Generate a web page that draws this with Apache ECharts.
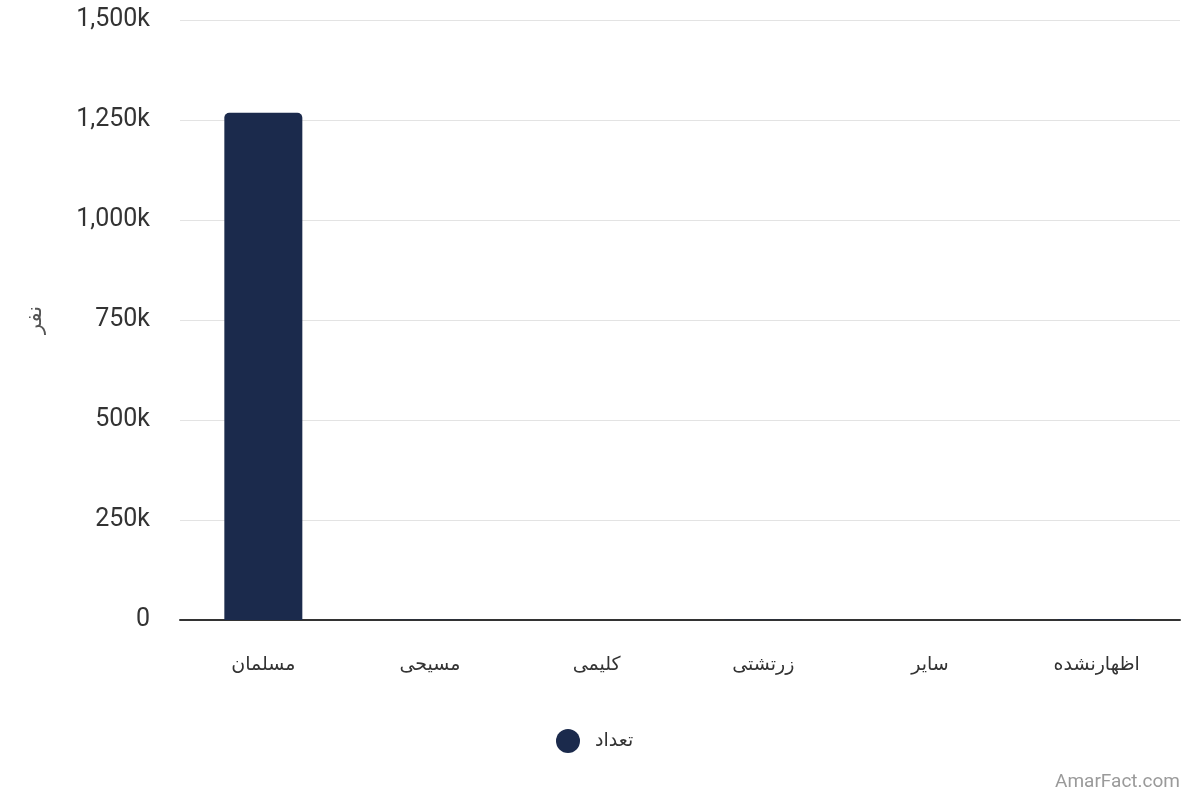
<!DOCTYPE html>
<html lang="fa">
<head>
    <meta charset="UTF-8">
    <title>Chart</title>
    <script src="https://cdn.jsdelivr.net/npm/echarts@6/dist/echarts.min.js"></script>
    <style>
        html, body {margin: 0; padding: 0; background: #fff;}
    </style>
</head>
<body>
<div id="main" style="width: 1200px;height:800px;"></div>
<script>
    // data
    var categories = ['مسلمان', 'مسیحی', 'کلیمی', 'زرتشتی', 'سایر', 'اظهارنشده'];
    var counts = [1268000, 900, 200, 700, 300, 1500];
    var yTicks = [0, 250000, 500000, 750000, 1000000, 1250000, 1500000];

    var font = 'Roboto, "DejaVu Sans", sans-serif';
    var myChart = echarts.init(document.getElementById('main'));

    var option = {
        backgroundColor: '#fff',
        animation: false,
        textStyle: {fontFamily: font},
        grid: {left: 180, right: 20, top: 20, bottom: 180, containLabel: false},
        legend: {
            data: ['تعداد'],
            bottom: 42,
            left: 551,
            icon: 'circle',
            itemWidth: 24,
            itemHeight: 24,
            textStyle: {fontSize: 19, color: '#333', fontFamily: font, padding: [0, 0, 0, 10]}
        },
        xAxis: {
            type: 'category',
            data: categories,
            axisLine: {lineStyle: {color: '#333', width: 2}},
            axisTick: {show: false},
            axisLabel: {fontSize: 19, color: '#333', margin: 36, fontFamily: font}
        },
        yAxis: {
            type: 'value',
            min: yTicks[0],
            max: yTicks[yTicks.length - 1],
            interval: 250000,
            name: 'نفر',
            nameLocation: 'middle',
            nameRotate: 90,
            nameGap: 134,
            nameTextStyle: {fontSize: 21, color: '#555', fontFamily: font},
            axisLine: {show: false},
            axisTick: {show: false},
            splitLine: {lineStyle: {color: '#e3e3e3', width: 1}},
            axisLabel: {
                fontSize: 25,
                color: '#333',
                margin: 30,
                fontFamily: font,
                formatter: function (v) {
                    return v === 0 ? '0' : (v / 1000).toLocaleString('en-US') + 'k';
                }
            }
        },
        series: [{
            name: 'تعداد',
            type: 'bar',
            data: counts,
            barWidth: 78,
            itemStyle: {color: '#1b2a4c', borderRadius: [5, 5, 0, 0]}
        }],
        graphic: [{
            type: 'text',
            right: 20,
            bottom: 8,
            style: {text: 'AmarFact.com', fontSize: 19, fill: '#9a9a9a', fontFamily: font}
        }]
    };

    myChart.setOption(option);
</script>
</body>
</html>
